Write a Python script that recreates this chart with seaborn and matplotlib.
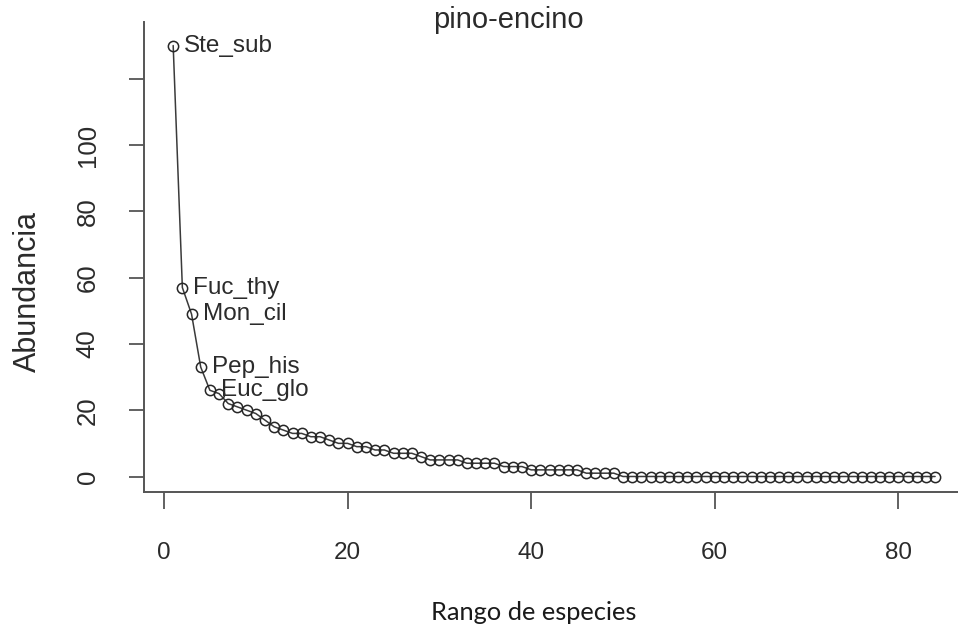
import numpy as np
import pandas as pd
import matplotlib
matplotlib.use("Agg")
import matplotlib.pyplot as plt
import seaborn as sns
from matplotlib import font_manager

# Abundance of each species, ordered by rank (pino-encino site)
abundancia = [
    130, 57, 49, 33, 26, 25, 22, 21, 20, 19,
    17, 15, 14, 13, 13, 12, 12, 11, 10, 10,
    9, 9, 8, 8, 7, 7, 7, 6, 5, 5,
    5, 5, 4, 4, 4, 4, 3, 3, 3, 2,
    2, 2, 2, 2, 2, 1, 1, 1, 1, 0,
    0, 0, 0, 0, 0, 0, 0, 0, 0, 0,
    0, 0, 0, 0, 0, 0, 0, 0, 0, 0,
    0, 0, 0, 0, 0, 0, 0, 0, 0, 0,
    0, 0, 0, 0,
]
# Names of the most abundant species, labelled on the curve
especies_top = ["Ste_sub", "Fuc_thy", "Mon_cil", "Pep_his", "Euc_glo"]

x_ticks = [0, 20, 40, 60, 80]
y_ticks = [0, 20, 40, 60, 80, 100, 120]
y_ticklabels = ["0", "20", "40", "60", "80", "100", ""]

titulo = "pino-encino"
x_label = "Rango de especies"
y_label = "Abundancia"

df = pd.DataFrame({"rango": np.arange(1, len(abundancia) + 1),
                   "abundancia": abundancia})

sns.set_style("white")
plt.rcParams["font.family"] = ["Liberation Sans", "DejaVu Sans"]

available = {f.name for f in font_manager.fontManager.ttflist}
label_font = "Lato" if "Lato" in available else "DejaVu Sans"

W, H = 958, 635
fig = plt.figure(figsize=(W / 100, H / 100), dpi=100)
left, right, bottom, top = 144, 958, 492, 22
ax = fig.add_axes([left / W, 1 - bottom / H, (right - left) / W, (bottom - top) / H])

text_col = "#2b2b2b"
line_col = "#3a3a3a"

sns.lineplot(data=df, x="rango", y="abundancia", ax=ax, color=line_col,
             linewidth=1.1, marker="o", markersize=7.4,
             markerfacecolor="none", markeredgecolor="#262626",
             markeredgewidth=1.1)

for i, name in enumerate(especies_top):
    ax.annotate(name, (df["rango"][i], df["abundancia"][i]),
                xytext=(8, 0), textcoords="offset points",
                ha="left", va="center", fontsize=17.5, color=text_col,
                family=["Liberation Sans", "DejaVu Sans"])

# scale: 0 at x=164 px, 9.18 px per rank; 0 at y=476.5 px, 3.315 px per unit
ax.set_xlim((left - 164) / 9.18, (right - 164) / 9.18)
ax.set_ylim((476.5 - bottom) / 3.315, (476.5 - top) / 3.315)

ax.set_xticks(x_ticks)
ax.set_xticklabels([str(t) for t in x_ticks], fontsize=17.5, color=text_col)
ax.set_yticks(y_ticks)
ax.set_yticklabels(y_ticklabels, rotation=90, va="center", fontsize=18.5,
                   color=text_col)

ax.tick_params(axis="x", bottom=True, direction="out", length=12, width=1.3,
               color="#555555", pad=24)
ax.tick_params(axis="y", left=True, direction="out", length=11, width=1.3,
               color="#555555", pad=21)

for s in ["top", "right"]:
    ax.spines[s].set_visible(False)
for s in ["left", "bottom"]:
    ax.spines[s].set_color("#555555")
    ax.spines[s].set_linewidth(1.4)

ax.set_xlabel("")
ax.set_ylabel("")

fig.text(508 / W, 1 - 20 / H, titulo, ha="center", va="center",
         fontsize=21, color=text_col)
fig.text(534 / W, 1 - 612 / H, x_label, ha="center", va="center",
         fontsize=18.3, color="#1a1a1a", family=[label_font, "DejaVu Sans"])
fig.text(28 / W, 1 - 291 / H, y_label, ha="center", va="center",
         rotation=90, fontsize=22, color=text_col)

fig.savefig("out.png", dpi=100, facecolor="white")
